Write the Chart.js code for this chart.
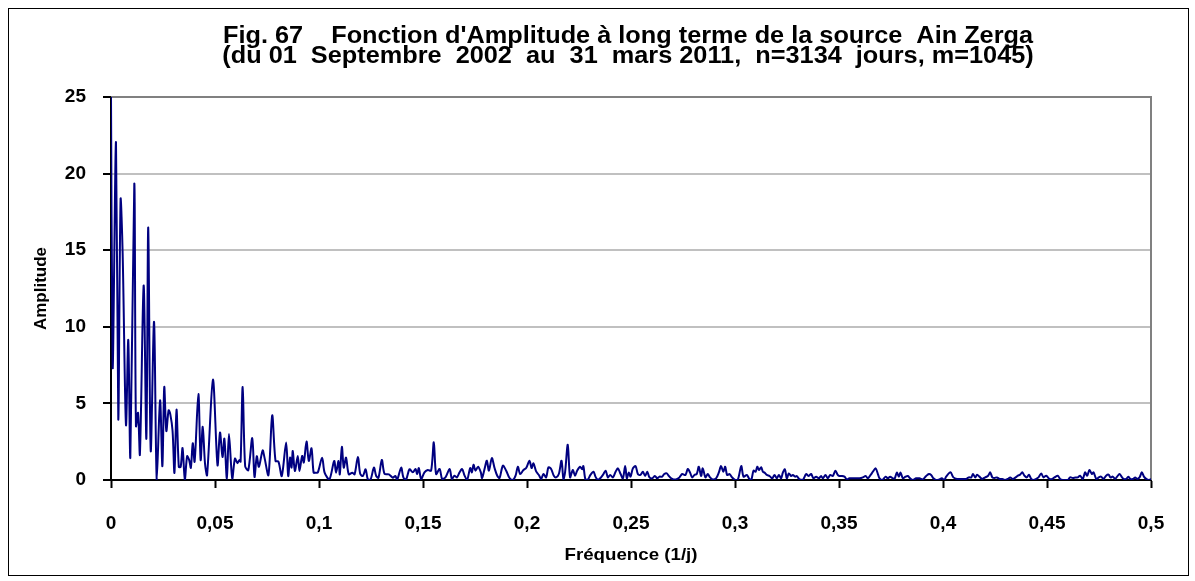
<!DOCTYPE html>
<html>
<head>
<meta charset="utf-8">
<script src="https://cdn.jsdelivr.net/npm/chart.js@4.4.1/dist/chart.umd.min.js"></script>
<style>
  html, body { margin: 0; padding: 0; background: #fff; }
  #wrap { position: relative; width: 1195px; height: 581px; }
  #cadre { position: absolute; left: 8px; top: 8px; width: 1181px; height: 568px; border: 1px solid #000; box-sizing: border-box; }
  canvas { position: absolute; left: 0; top: 0; }
</style>
</head>
<body>
<div id="wrap">
  <div id="cadre"></div>
  <canvas id="spectre" width="1195" height="581"></canvas>
</div>
<script>
// Fonction d'amplitude - source Ain Zerga
const titre = [
  "Fig. 67    Fonction d'Amplitude à long terme de la source  Ain Zerga",
  "(du 01  Septembre  2002  au  31  mars 2011,  n=3134  jours, m=1045)"
];
const titreX = 'Fréquence (1/j)';
const titreY = 'Amplitude';

const yGraduations = [0, 5, 10, 15, 20, 25];
const xEtiquettes = ['0', '0,05', '0,1', '0,15', '0,2', '0,25', '0,3', '0,35', '0,4', '0,45', '0,5'];

// fréquences (1/j)
const frequence = [
  0, 0.0008, 0.0024, 0.0035, 0.0046, 0.0056, 0.0072, 0.0083, 0.0093, 0.0112,
  0.0120, 0.0130, 0.0139, 0.0157, 0.0170, 0.0179, 0.0191, 0.0207, 0.0220, 0.0236,
  0.0247, 0.0256, 0.0266, 0.0277, 0.0285, 0.0296, 0.0305, 0.0315, 0.0326, 0.0335,
  0.0344, 0.0355, 0.0366, 0.0376, 0.0384, 0.0393, 0.0402, 0.0420, 0.0431, 0.0441,
  0.0452, 0.0462, 0.0490, 0.0512, 0.0524, 0.0536, 0.0545, 0.0557, 0.0567, 0.0583,
  0.0596, 0.0608, 0.0617, 0.0623, 0.0633, 0.0645, 0.0660, 0.0679, 0.0690, 0.0701,
  0.0711, 0.0729, 0.0738, 0.0757, 0.0775, 0.0791, 0.0805, 0.0821, 0.0842, 0.0852,
  0.0861, 0.0868, 0.0874, 0.0884, 0.0898, 0.0906, 0.0919, 0.0927, 0.0940, 0.0951,
  0.0964, 0.0974, 0.0983, 0.0994, 0.1015, 0.1027, 0.1050, 0.1073, 0.1082, 0.1094,
  0.1100, 0.1110, 0.1119, 0.1130, 0.1143, 0.1160, 0.1171, 0.1187, 0.1198, 0.1211,
  0.1224, 0.1235, 0.1248, 0.1264, 0.1275, 0.1286, 0.1302, 0.1315, 0.1336, 0.1355,
  0.1367, 0.1376, 0.1395, 0.1406, 0.1419, 0.1435,
  0.1451, 0.1464, 0.1472, 0.1480, 0.1491, 0.1507, 0.1523, 0.1539, 0.1552, 0.1563,
  0.1580, 0.1592, 0.1608, 0.1628, 0.1639, 0.1651, 0.1663, 0.1676, 0.1688, 0.1700,
  0.1712, 0.1727, 0.1735, 0.1743, 0.1752, 0.1765, 0.1778, 0.1784, 0.1797, 0.1807,
  0.1817, 0.1831, 0.1844, 0.1857, 0.1868, 0.1884, 0.1900, 0.1916, 0.1932, 0.1945,
  0.1956, 0.1967, 0.1983, 0.1996, 0.2012, 0.2022, 0.2031, 0.2044, 0.2057, 0.2068,
  0.2079, 0.2092, 0.2103, 0.2116, 0.2129, 0.2140, 0.2153, 0.2166, 0.2175, 0.2183,
  0.2196, 0.2207, 0.2220, 0.2231, 0.2241,
  0.2255, 0.2265, 0.2271, 0.2281, 0.2293, 0.2305, 0.2320, 0.2329, 0.2341, 0.2352,
  0.2365, 0.2378, 0.2389, 0.2400, 0.2413, 0.2426, 0.2437, 0.2450, 0.2461, 0.2472,
  0.2480, 0.2489, 0.2498, 0.2509, 0.2522, 0.2533, 0.2545, 0.2557, 0.2568, 0.2578,
  0.2589, 0.2602, 0.2615, 0.2626, 0.2637, 0.2650, 0.2660, 0.2672, 0.2682, 0.2693,
  0.2704, 0.2717, 0.2733, 0.2746, 0.2762, 0.2773, 0.2784, 0.2794, 0.2805, 0.2816,
  0.2826, 0.2837, 0.2845, 0.2858, 0.2869, 0.2880, 0.2893, 0.2909, 0.2922, 0.2933,
  0.2944, 0.2953, 0.2962, 0.2974, 0.2986, 0.3001, 0.3014, 0.3030, 0.3041,
  0.3057, 0.3067, 0.3078, 0.3089, 0.3099, 0.3107, 0.3115, 0.3126, 0.3134, 0.3142,
  0.3153, 0.3166, 0.3179, 0.3190, 0.3201, 0.3211, 0.3222, 0.3230, 0.3240, 0.3249,
  0.3259, 0.3270, 0.3278, 0.3289, 0.3297, 0.3310, 0.3326, 0.3342, 0.3353, 0.3366,
  0.3377, 0.3390, 0.3403, 0.3414, 0.3422, 0.3435, 0.3446, 0.3458, 0.3470, 0.3483,
  0.3494, 0.3502, 0.3515, 0.3526, 0.3538, 0.3550, 0.3566, 0.3583, 0.3599, 0.3615,
  0.3628, 0.3639, 0.3652, 0.3663, 0.3676, 0.3687, 0.3695, 0.3708, 0.3724, 0.3735,
  0.3746, 0.3759, 0.3768, 0.3778, 0.3788, 0.3796, 0.3807, 0.3820, 0.3831, 0.3842,
  0.3855, 0.3871, 0.3887, 0.3903, 0.3919, 0.3932, 0.3943, 0.3954, 0.3967, 0.3983,
  0.3994, 0.4006, 0.4015,
  0.4036, 0.4050, 0.4067, 0.4083, 0.4099, 0.4112, 0.4124, 0.4136, 0.4144, 0.4155,
  0.4164, 0.4175, 0.4188, 0.4203, 0.4217, 0.4227, 0.4237, 0.4248, 0.4259, 0.4272,
  0.4285, 0.4297, 0.4312, 0.4323, 0.4336, 0.4349, 0.4360, 0.4371, 0.4381, 0.4392,
  0.4403, 0.4413, 0.4424, 0.4435, 0.4448, 0.4459, 0.4472, 0.4483, 0.4496, 0.4512,
  0.4525, 0.4536, 0.4552, 0.4563, 0.4576, 0.4589, 0.4600, 0.4611, 0.4624, 0.4637,
  0.4648, 0.4659, 0.4672, 0.4683, 0.4693, 0.4704, 0.4716, 0.4724, 0.4737, 0.4749,
  0.4760, 0.4772, 0.4784, 0.4796, 0.4805, 0.4816, 0.4828, 0.4837, 0.4849, 0.4861,
  0.4869, 0.4881, 0.4892, 0.4900, 0.4913, 0.4924, 0.4933, 0.4945, 0.4956, 0.4966,
  0.4977, 0.4990, 0.5000
];

// amplitudes correspondantes
const amplitude = [
  25.0, 7.3, 22.05, 3.95, 18.3, 14.8, 3.6, 9.14, 1.5, 19.35,
  3.52, 4.38, 1.68, 12.7, 2.7, 16.48, 1.9, 10.32, 0.0, 5.2,
  0.9, 6.07, 3.2, 4.55, 4.3, 3.2, 0.47, 4.6, 0.86, 0.86,
  2.08, 0.04, 1.55, 1.3, 0.8, 2.4, 1.2, 5.62, 1.3, 3.48,
  1.07, 0.32, 6.55, 0.97, 3.1, 1.5, 2.7, 0.1, 3.0, 0.1,
  1.4, 1.1, 1.3, 1.2, 6.07, 0.9, 0.64, 2.73, 0.2, 1.55,
  0.86, 1.93, 1.46, 0.32, 4.22, 1.24, 1.2, 0.26, 2.45, 0.26,
  1.46, 0.81, 1.9, 0.59, 1.57, 0.59, 1.57, 1.14, 2.51, 1.24,
  2.07, 0.48, 0.48, 0.48, 1.46, 0.48, 0.04, 1.24, 0.48, 1.24,
  0.37, 2.16, 0.81, 1.46, 0.37, 0.48, 0.37, 1.5, 0.41, 0.26,
  0.7, 0.04, 0.04, 0.81, 0.26, 0.15, 1.31, 0.41, 0.37, 0.15,
  0.26, 0.04, 0.81, 0.15, 0.04, 0.7,
  0.5, 0.72, 0.39, 0.78, 0.07, 0.5, 0.65, 0.61, 2.46, 0.39,
  0.72, 0.07, 0.17, 0.72, 0.07, 0.28, 0.17, 0.5, 0.72, 0.28,
  0.0, 0.78, 0.5, 1.0, 0.61, 0.87, 0.5, 0.13, 0.78, 1.26,
  0.61, 1.43, 0.78, 0.28, 0.13, 0.93, 0.61, 0.13, 0.0, 0.28,
  0.87, 0.39, 0.65, 0.78, 1.26, 0.78, 1.09, 0.56, 0.33, 0.07,
  0.39, 0.17, 0.83, 0.72, 0.28, 0.17, 0.39, 1.26, 0.07, 0.5,
  2.3, 0.17, 0.65, 0.28, 0.61,
  0.87, 0.7, 0.91, 0.04, 0.04, 0.33, 0.54, 0.22, 0.0, 0.11,
  0.33, 0.61, 0.17, 0.33, 0.17, 0.54, 0.76, 0.39, 0.11, 0.91,
  0.11, 0.48, 0.22, 0.76, 0.91, 0.39, 0.33, 0.54, 0.26, 0.54,
  0.17, 0.11, 0.26, 0.11, 0.22, 0.22, 0.39, 0.43, 0.26, 0.11,
  0.04, 0.04, 0.17, 0.39, 0.33, 0.72, 0.48, 0.17, 0.33, 0.39,
  0.87, 0.26, 0.76, 0.17, 0.39, 0.17, 0.04, 0.11, 0.48, 0.91,
  0.54, 0.87, 0.33, 0.39, 0.17, 0.0, 0.04, 0.91, 0.22,
  0.33, 0.11, 0.0, 0.61, 0.54, 0.87, 0.65, 0.83, 0.54, 0.48,
  0.33, 0.26, 0.11, 0.33, 0.11, 0.33, 0.11, 0.48, 0.7, 0.11,
  0.43, 0.26, 0.33, 0.22, 0.26, 0.04, 0.0, 0.39, 0.26, 0.39,
  0.11, 0.22, 0.11, 0.26, 0.11, 0.33, 0.11, 0.33, 0.26, 0.61,
  0.33, 0.26, 0.26, 0.22, 0.04, 0.11, 0.11, 0.11, 0.11, 0.17,
  0.26, 0.11, 0.33, 0.54, 0.76, 0.39, 0.11, 0.0, 0.22, 0.11,
  0.22, 0.11, 0.11, 0.48, 0.22, 0.48, 0.11, 0.22, 0.26, 0.11,
  0.0, 0.11, 0.11, 0.04, 0.26, 0.39, 0.33, 0.11, 0.0, 0.04,
  0.11, 0.0, 0.22,
  0.5, 0.17, 0.07, 0.07, 0.07, 0.07, 0.17, 0.17, 0.39, 0.17,
  0.35, 0.22, 0.07, 0.17, 0.28, 0.5, 0.17, 0.13, 0.17, 0.07,
  0.07, 0.0, 0.07, 0.17, 0.07, 0.17, 0.28, 0.35, 0.5, 0.28,
  0.17, 0.35, 0.07, 0.0, 0.07, 0.17, 0.43, 0.17, 0.28, 0.07,
  0.07, 0.17, 0.28, 0.07, 0.0, 0.0, 0.0, 0.17, 0.13, 0.17,
  0.17, 0.28, 0.07, 0.5, 0.28, 0.65, 0.39, 0.5, 0.07, 0.17,
  0.22, 0.07, 0.28, 0.35, 0.17, 0.22, 0.07, 0.22, 0.39, 0.17,
  0.07, 0.07, 0.22, 0.07, 0.07, 0.17, 0.07, 0.17, 0.5, 0.22,
  0.07, 0.0, 0.07
];

const police = '"Liberation Sans", Arial, sans-serif';

// cadre gris de la zone de tracé + titres
const habillage = {
  id: 'habillage',
  beforeDatasetsDraw(chart) {
    const { ctx, chartArea: a } = chart;
    ctx.save();
    ctx.strokeStyle = '#808080';
    ctx.lineWidth = 2;
    ctx.beginPath();
    ctx.moveTo(a.left, a.top);
    ctx.lineTo(a.right, a.top);
    ctx.lineTo(a.right, a.bottom);
    ctx.stroke();
    ctx.restore();
  },
  afterDraw(chart) {
    const { ctx, chartArea: a } = chart;
    ctx.save();
    ctx.fillStyle = '#000';
    ctx.textAlign = 'center';
    ctx.textBaseline = 'alphabetic';

    // titre un peu élargi horizontalement
    ctx.save();
    ctx.translate(628, 0);
    ctx.scale(1.1, 1);
    ctx.font = 'bold 23px ' + police;
    ctx.fillText(titre[0], 0, 43);
    ctx.fillText(titre[1], 0, 63);
    ctx.restore();

    ctx.font = 'bold 17px ' + police;
    ctx.save();
    ctx.translate((a.left + a.right) / 2, 560);
    ctx.scale(1.1, 1);
    ctx.fillText(titreX, 0, 0);
    ctx.restore();

    ctx.translate(46, (a.top + a.bottom) / 2);
    ctx.rotate(-Math.PI / 2);
    ctx.fillText(titreY, 0, 0);
    ctx.restore();
  }
};

const points = frequence.map((f, i) => ({ x: f, y: amplitude[i] }));

new Chart(document.getElementById('spectre'), {
  type: 'line',
  data: {
    datasets: [{
      label: titreY,
      data: points,
      borderColor: '#000080',
      borderWidth: 2,
      pointRadius: 0,
      tension: 0.3,
      fill: false
    }]
  },
  options: {
    responsive: false,
    animation: false,
    layout: { padding: { left: 0, top: 97, right: 44, bottom: 0 } },
    plugins: {
      legend: { display: false },
      title: { display: false },
      tooltip: { enabled: false }
    },
    scales: {
      x: {
        type: 'linear',
        min: 0,
        max: 0.5,
        afterFit: (s) => { s.height = 101; },
        afterBuildTicks: (s) => { s.ticks = xEtiquettes.map((_, i) => ({ value: i * 0.05 })); },
        border: { color: '#000', width: 2 },
        grid: { drawOnChartArea: false, drawTicks: true, tickLength: 8, tickColor: '#000', tickWidth: 2 },
        ticks: {
          padding: 24,
          color: '#000',
          maxRotation: 0,
          font: { family: police, size: 19, weight: 'bold' },
          callback: (v, i) => xEtiquettes[i]
        }
      },
      y: {
        min: 0,
        max: 25,
        afterFit: (s) => { s.width = 111; },
        afterBuildTicks: (s) => { s.ticks = yGraduations.map(v => ({ value: v })); },
        border: { color: '#000', width: 2 },
        grid: {
          color: (c) => (c.tick && c.tick.value === 25) ? 'rgba(0,0,0,0)' : '#c0c0c0',
          lineWidth: 2,
          tickLength: 8,
          tickColor: '#000',
          tickWidth: 2
        },
        ticks: {
          padding: 17,
          color: '#000',
          font: { family: police, size: 19, weight: 'bold' },
          callback: (v) => String(v)
        }
      }
    }
  },
  plugins: [habillage]
});
</script>
</body>
</html>
